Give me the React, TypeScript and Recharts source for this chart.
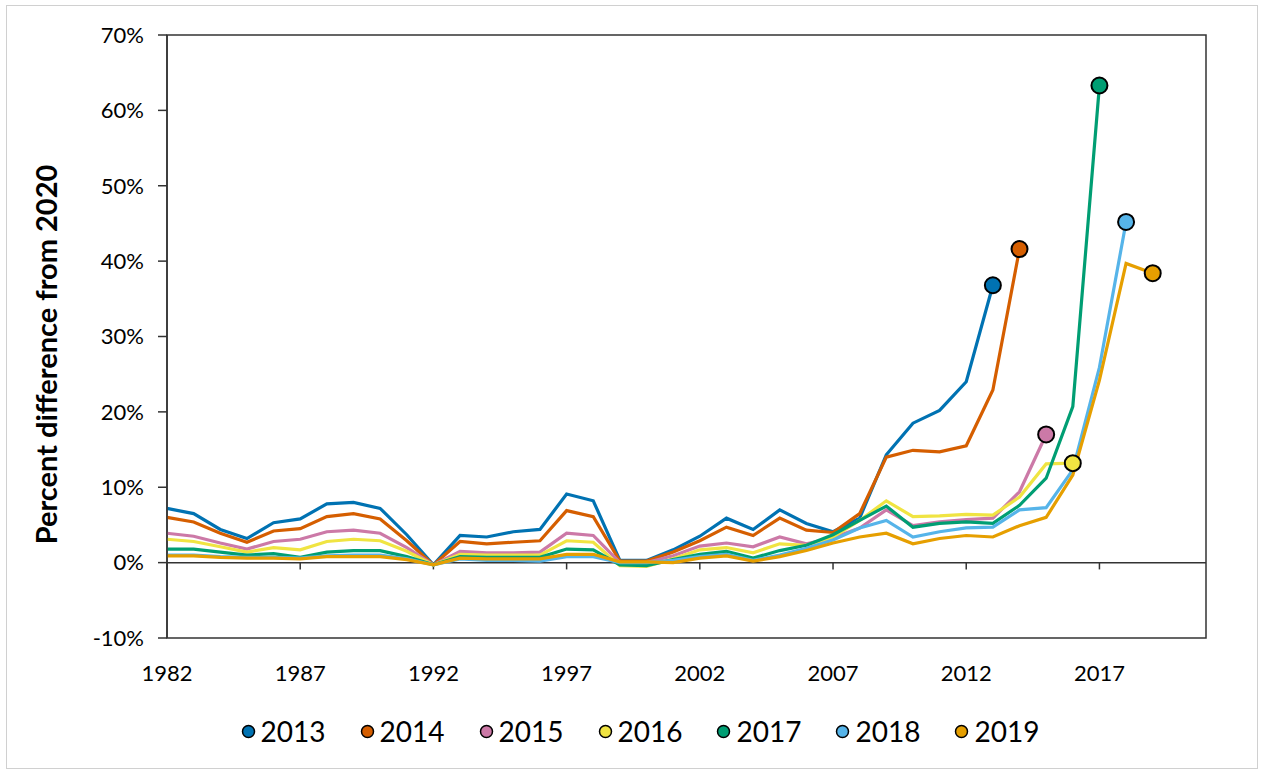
import { LineChart, Line, XAxis, YAxis, ReferenceLine, ReferenceArea, Legend, Label } from 'recharts'

const FONT = 'Lato, "Open Sans", sans-serif'

const YEARS = [
  1982, 1983, 1984, 1985, 1986, 1987, 1988, 1989, 1990, 1991,
  1992, 1993, 1994, 1995, 1996, 1997, 1998, 1999, 2000, 2001,
  2002, 2003, 2004, 2005, 2006, 2007, 2008, 2009, 2010, 2011,
  2012, 2013, 2014, 2015, 2016, 2017, 2018, 2019,
]

// percent difference from 2020, one list per data vintage (1982 .. vintage year)
const V2013 = [
  7.2, 6.5, 4.4, 3.2, 5.3, 5.8, 7.8, 8.0, 7.2, 3.7,
  -0.3, 3.6, 3.4, 4.1, 4.4, 9.1, 8.2, 0.3, 0.3, 1.7,
  3.5, 5.9, 4.4, 7.0, 5.2, 4.1, 5.9, 14.3, 18.5, 20.2,
  24.0, 36.8,
]
const V2014 = [
  6.0, 5.4, 3.9, 2.7, 4.2, 4.5, 6.1, 6.5, 5.8, 2.9,
  -0.3, 2.8, 2.5, 2.7, 2.9, 6.9, 6.1, 0.2, 0.2, 1.4,
  2.9, 4.7, 3.6, 5.9, 4.3, 4.0, 6.5, 14.0, 14.9, 14.7,
  15.5, 22.9, 41.6,
]
const V2015 = [
  3.9, 3.5, 2.6, 1.8, 2.8, 3.1, 4.1, 4.3, 3.9, 2.0,
  -0.3, 1.5, 1.3, 1.3, 1.4, 3.9, 3.6, 0.0, 0.0, 0.9,
  2.2, 2.6, 2.1, 3.4, 2.5, 3.3, 4.6, 7.0, 4.9, 5.4,
  5.7, 5.9, 9.4, 17.0,
]
const V2016 = [
  3.1, 2.8, 2.1, 1.4, 2.0, 1.7, 2.8, 3.1, 2.9, 1.5,
  -0.3, 1.1, 1.0, 1.0, 1.0, 2.9, 2.7, -0.4, -0.5, 0.5,
  1.7, 2.0, 1.3, 2.5, 2.3, 3.4, 5.6, 8.2, 6.1, 6.2,
  6.4, 6.3, 8.7, 13.1, 13.2,
]
const V2017 = [
  1.8, 1.8, 1.4, 1.0, 1.2, 0.7, 1.4, 1.6, 1.6, 0.8,
  -0.3, 0.8, 0.7, 0.7, 0.7, 1.8, 1.7, -0.3, -0.4, 0.4,
  1.1, 1.5, 0.6, 1.6, 2.3, 3.7, 5.6, 7.5, 4.7, 5.2,
  5.4, 5.2, 7.6, 11.2, 20.7, 63.3,
]
const V2018 = [
  1.0, 1.0, 0.8, 0.7, 0.7, 0.6, 0.9, 1.0, 1.0, 0.5,
  -0.3, 0.5, 0.3, 0.3, 0.2, 0.8, 0.8, 0.0, 0.0, 0.3,
  0.8, 1.1, 0.3, 1.0, 1.9, 3.0, 4.6, 5.6, 3.4, 4.1,
  4.6, 4.7, 7.0, 7.3, 12.3, 25.9, 45.2,
]
const V2019 = [
  0.9, 0.9, 0.7, 0.6, 0.6, 0.5, 0.8, 0.8, 0.8, 0.4,
  -0.3, 0.6, 0.5, 0.5, 0.5, 1.1, 1.1, 0.1, 0.1, 0.0,
  0.6, 0.9, 0.2, 0.8, 1.6, 2.6, 3.4, 3.9, 2.5, 3.2,
  3.6, 3.4, 4.9, 6.0, 11.6, 24.2, 39.7, 38.4,
]

const SERIES = [
  { name: '2013', values: V2013, color: '#0072B2' },
  { name: '2014', values: V2014, color: '#D55E00' },
  { name: '2015', values: V2015, color: '#CC79A7' },
  { name: '2016', values: V2016, color: '#F0E442' },
  { name: '2017', values: V2017, color: '#009E73' },
  { name: '2018', values: V2018, color: '#56B4E9' },
  { name: '2019', values: V2019, color: '#E69F00' },
]

const X_TICKS = [1982, 1987, 1992, 1997, 2002, 2007, 2012, 2017]
const Y_TICKS = [-10, 0, 10, 20, 30, 40, 50, 60, 70]

const data = YEARS.map((year, i) => {
  const row: Record<string, number> = { year }
  SERIES.forEach(s => {
    if (i < s.values.length) row[s.name] = s.values[i]
  })
  return row
})

function LegendContent() {
  return (
    <div style={{ display: 'flex', justifyContent: 'center', gap: 34, fontFamily: FONT, fontSize: 28, color: '#000', paddingLeft: 18 }}>
      {SERIES.map(s => (
        <span key={s.name} style={{ display: 'flex', alignItems: 'center' }}>
          <svg width={15} height={15}>
            <circle cx={7.5} cy={7.5} r={6} fill={s.color} stroke="#000" strokeWidth={1.5} />
          </svg>
          <span style={{ marginLeft: 5 }}>{s.name}</span>
        </span>
      ))}
    </div>
  )
}

export default function App() {
  return (
    <div style={{ position: 'absolute', left: 0, top: 0, width: 1262, height: 770, background: '#fff' }}>
      <div style={{ position: 'absolute', left: 6, top: 5, width: 1250, height: 762, border: '1px solid #d0d0d0' }} />
      <LineChart
        width={1262}
        height={770}
        data={data}
        margin={{ top: 35, right: 56, left: 0, bottom: 72 }}
        style={{ fontFamily: FONT }}
      >
        <ReferenceArea x1={1982} x2={2021} y1={-10} y2={70} fill="none" stroke="#333" strokeWidth={1.5} ifOverflow="visible" />
        <XAxis
          dataKey="year"
          type="number"
          domain={[1982, 2021]}
          ticks={X_TICKS}
          interval={0}
          height={60}
          axisLine={false}
          tickLine={false}
          tickSize={0}
          tickMargin={27}
          tick={{ fill: '#000', fontSize: 22, fontFamily: FONT }}
        />
        <YAxis
          domain={[-10, 70]}
          ticks={Y_TICKS}
          interval={0}
          width={167}
          axisLine={{ stroke: '#333', strokeWidth: 1.5 }}
          tickLine={{ stroke: '#333', strokeWidth: 1.5 }}
          tickSize={9}
          tickMargin={14}
          tickFormatter={(v: number) => `${v}%`}
          tick={{ fill: '#000', fontSize: 22, fontFamily: FONT }}
        >
          <Label
            content={(props: any) => {
              const vb = props.viewBox
              return (
                <text
                  transform={`translate(${vb.x + 50}, ${vb.y + vb.height / 2 + 18}) rotate(-90)`}
                  textAnchor="middle"
                  dominantBaseline="middle"
                  fontFamily={FONT}
                  fontWeight="bold"
                  fontSize={29}
                  fill="#000"
                >
                  Percent difference from 2020
                </text>
              )
            }}
          />
        </YAxis>
        <ReferenceLine y={0} stroke="#333" strokeWidth={1.5} />
        {X_TICKS.map(t => (
          <ReferenceLine key={t} segment={[{ x: t, y: 0 }, { x: t, y: -0.9 }]} stroke="#333" strokeWidth={1.5} />
        ))}
        {SERIES.map(s => (
          <Line
            key={s.name}
            dataKey={s.name}
            name={s.name}
            stroke={s.color}
            strokeWidth={3.2}
            isAnimationActive={false}
            dot={(p: any) =>
              p.index === s.values.length - 1 ? (
                <circle key={p.key} cx={p.cx} cy={p.cy} r={8} fill={s.color} stroke="#000" strokeWidth={2} />
              ) : (
                <g key={p.key} />
              )
            }
            activeDot={false}
          />
        ))}
        <Legend
          verticalAlign="middle"
          align="center"
          wrapperStyle={{ top: 714, left: 0, width: 1262 }}
          content={() => <LegendContent />}
        />
      </LineChart>
    </div>
  )
}
